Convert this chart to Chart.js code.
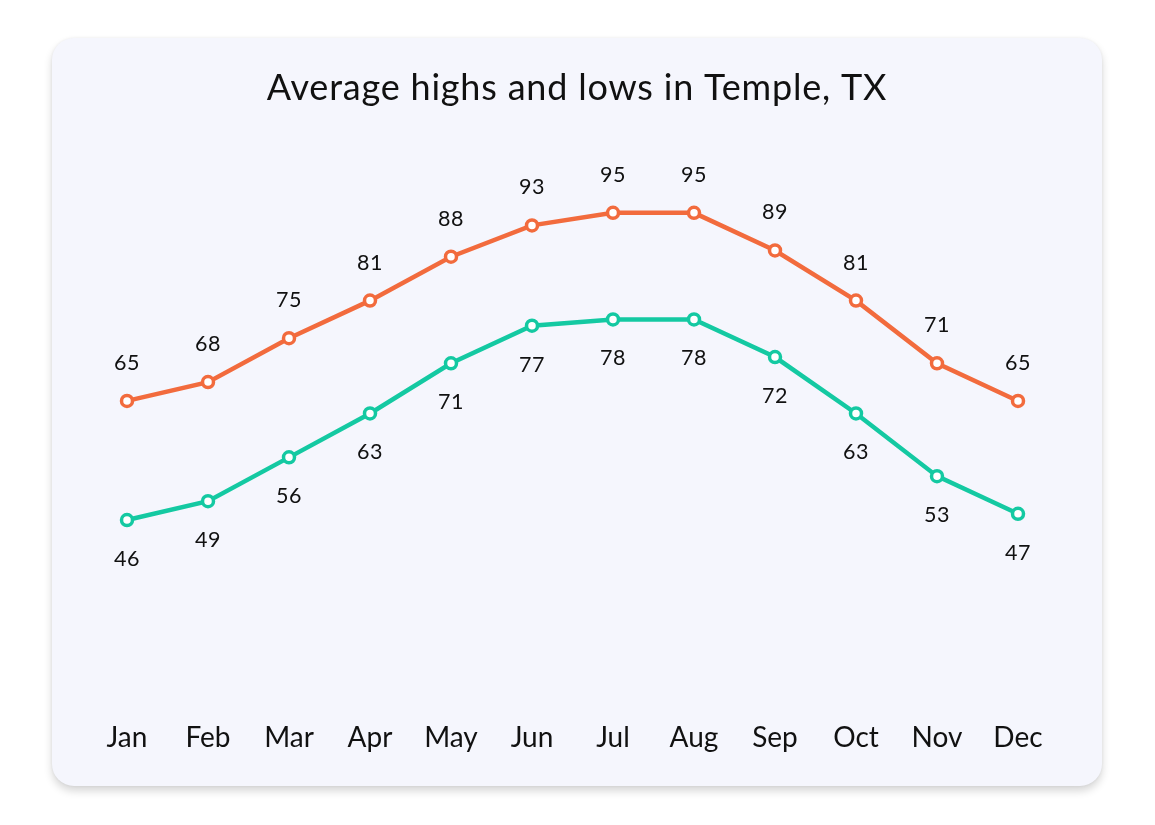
<!DOCTYPE html>
<html>
<head>
<meta charset="utf-8">
<script src="https://cdn.jsdelivr.net/npm/chart.js@4.4.1/dist/chart.umd.min.js"></script>
<style>
  html, body { margin: 0; padding: 0; background: #ffffff; width: 1155px; height: 825px; overflow: hidden; }
  #card {
    position: absolute; left: 52px; top: 38px; width: 1050px; height: 748px;
    background: #F5F6FD; border-radius: 22px;
    box-shadow: 0 5px 8px rgba(0,0,0,0.16), 0 0 3px rgba(0,0,0,0.06);
  }
  #c { display: block; }
</style>
</head>
<body>
<div id="card"><canvas id="c" width="1050" height="748"></canvas></div>
<script>
const months = ['Jan','Feb','Mar','Apr','May','Jun','Jul','Aug','Sep','Oct','Nov','Dec'];
const highs = [65, 68, 75, 81, 88, 93, 95, 95, 89, 81, 71, 65];
const lows  = [46, 49, 56, 63, 71, 77, 78, 78, 72, 63, 53, 47];
const titleText = 'Average highs and lows in Temple, TX';

const FONT = 'Lato, "Open Sans", sans-serif';
const ORANGE = '#F26B3D';
const TEAL = '#14C9A2';

const labelPlugin = {
  id: 'valueLabels',
  afterDatasetsDraw(chart) {
    const ctx = chart.ctx;
    ctx.save();
    ctx.font = '21.5px ' + FONT;
    ctx.fillStyle = '#111111';
    ctx.textAlign = 'center';
    ctx.textBaseline = 'middle';
    if ('letterSpacing' in ctx) ctx.letterSpacing = '0.5px';
    chart.data.datasets.forEach((ds, di) => {
      const meta = chart.getDatasetMeta(di);
      meta.data.forEach((pt, i) => {
        const off = di === 0 ? -38 : 39;
        ctx.fillText(String(ds.data[i]), pt.x, pt.y + off);
      });
    });
    ctx.restore();
  }
};

const titlePlugin = {
  id: 'cardTitle',
  afterDraw(chart) {
    const ctx = chart.ctx;
    ctx.save();
    ctx.font = '36px ' + FONT;
    ctx.fillStyle = '#111111';
    ctx.textAlign = 'center';
    ctx.textBaseline = 'middle';
    if ('letterSpacing' in ctx) ctx.letterSpacing = '0.8px';
    ctx.fillText(titleText, 525, 50);
    ctx.restore();
  }
};

new Chart(document.getElementById('c'), {
  type: 'line',
  data: {
    labels: months,
    datasets: [
      { label: 'High', data: highs, borderColor: ORANGE, backgroundColor: '#ffffff',
        borderWidth: 4.5, pointRadius: 5.5, pointBorderWidth: 3.5, pointBackgroundColor: '#ffffff',
        pointBorderColor: ORANGE, tension: 0 },
      { label: 'Low', data: lows, borderColor: TEAL, backgroundColor: '#ffffff',
        borderWidth: 4.5, pointRadius: 5.5, pointBorderWidth: 3.5, pointBackgroundColor: '#ffffff',
        pointBorderColor: TEAL, tension: 0 }
    ]
  },
  options: {
    responsive: false,
    animation: false,
    layout: { autoPadding: false, padding: { left: 75, right: 84, top: 143.5, bottom: 24 } },
    plugins: {
      legend: { display: false },
      tooltip: { enabled: false },
      title: { display: false }
    },
    scales: {
      x: {
        offset: false,
        grid: { display: false, drawTicks: false }, border: { display: false },
        ticks: { color: '#111111', font: { family: FONT, size: 28 }, padding: 7, maxRotation: 0, autoSkip: false }
      },
      y: { display: false, min: 15, max: 100 }
    }
  },
  plugins: [labelPlugin, titlePlugin]
});
</script>
</body>
</html>
